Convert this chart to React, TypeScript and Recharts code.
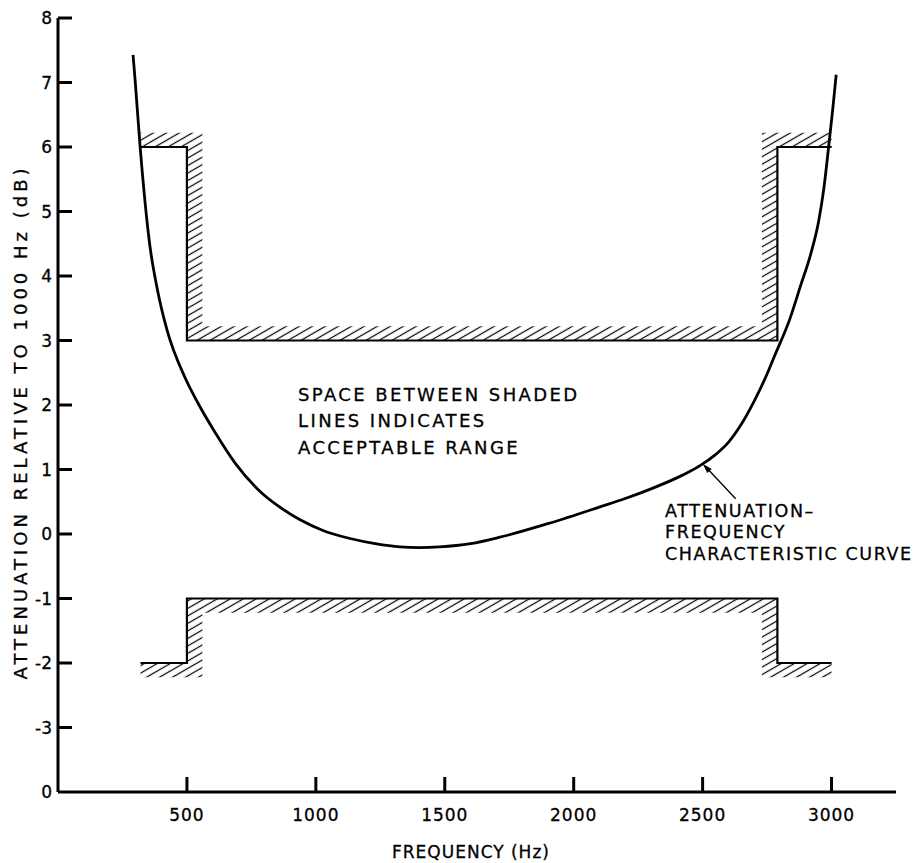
import React from "react";
import {
  ComposedChart,
  Line,
  Area,
  XAxis,
  YAxis,
  ReferenceDot,
} from "recharts";

// ---- data ----
const xTicks = [500, 1000, 1500, 2000, 2500, 3000];
const yTicks = [-4, -3, -2, -1, 0, 1, 2, 3, 4, 5, 6, 7, 8];

const maskFreq = [320, 500, 560, 2730, 2790, 3000];
const upperLimit = [6, 3, 3, 3, 6, 6];
const lowerLimit = [-2, -1, -1, -1, -2, -2];
const upperHatchTop = [6.22, 6.22, 3.22, 6.22, 6.22, 6.22];
const lowerHatchBottom = [-2.22, -2.22, -1.22, -2.22, -2.22, -2.22];

const curveFreq = [291, 299, 318, 357, 385, 423, 492, 540, 610, 687, 800, 870, 939, 1030, 1133, 1230, 1327, 1400, 1480, 1600, 1714, 1908, 2102, 2200, 2300, 2400, 2450, 2490, 2550, 2600, 2650, 2700, 2750, 2779, 2837, 2880, 2920, 2950, 2970, 2990, 3005, 3018];
const curveAtten = [7.43, 7.04, 6.03, 4.45, 3.8, 3.16, 2.43, 2.05, 1.57, 1.1, 0.6, 0.39, 0.22, 0.05, -0.07, -0.15, -0.2, -0.21, -0.2, -0.15, -0.05, 0.17, 0.42, 0.55, 0.7, 0.87, 0.97, 1.06, 1.23, 1.42, 1.7, 2.06, 2.48, 2.76, 3.32, 3.85, 4.35, 4.85, 5.35, 6.05, 6.6, 7.12];

const arrowTip = { f: 2500, a: 1.09 };

const maskData = maskFreq.map((f, i) => ({
  f,
  upper: upperLimit[i],
  lower: lowerLimit[i],
  upperHatch: [upperLimit[i], upperHatchTop[i]],
  lowerHatch: [lowerHatchBottom[i], lowerLimit[i]],
}));
const curveData = curveFreq.map((f, i) => ({ f, a: curveAtten[i] }));

const FONT = "'DejaVu Sans', sans-serif";

const YTick = (props: any) => {
  const { x, y, payload } = props;
  const v = payload.value;
  const label = v === -4 ? "0" : String(v);
  return (
    <g>
      {v !== -4 && (
        <line x1={x} x2={x + 14} y1={y} y2={y} stroke="#000" strokeWidth={3} />
      )}
      <text x={x - 6} y={y} dy="0.36em" textAnchor="end" fontFamily={FONT} fontSize={17} fill="#000" stroke="#000" strokeWidth={0.3}>
        {label}
      </text>
    </g>
  );
};

const XTick = (props: any) => {
  const { x, y, payload } = props;
  return (
    <g>
      <line x1={x} x2={x} y1={y} y2={y - 15} stroke="#000" strokeWidth={3} />
      <text x={x} y={y + 23} dy="0.36em" textAnchor="middle" fontFamily={FONT} fontSize={17} letterSpacing={1} fill="#000" stroke="#000" strokeWidth={0.3}>
        {payload.value}
      </text>
    </g>
  );
};

const ArrowHead = (props: any) => {
  const { cx, cy } = props;
  if (cx == null || cy == null) return null;
  return (
    <g>
      <line x1={cx + 3} y1={cy + 3} x2={cx + 33} y2={cy + 35} stroke="#000" strokeWidth={1.3} />
      <polygon
        points={`${cx},${cy} ${cx + 9.1},${cy + 5.2} ${cx + 4.7},${cy + 9.4}`}
        fill="#000"
      />
    </g>
  );
};

const textStyle = { fontFamily: FONT, fontSize: 18, fill: "#000", stroke: "#000", strokeWidth: 0.3, letterSpacing: 2.4 } as any;
const noteStyle = { ...textStyle, fontSize: 17.5, letterSpacing: 1.6 } as any;

export default function App() {
  return (
    <div>
      <style>{"body{margin:0}"}</style>
      <ComposedChart
        width={915}
        height={863}
        margin={{ top: 18, right: 19, bottom: 0, left: 0 }}
      >
        <defs>
          <pattern id="hatch" patternUnits="userSpaceOnUse" width="20" height="6.5" patternTransform="rotate(-30)">
            <line x1="0" y1="3.25" x2="20" y2="3.25" stroke="#000" strokeWidth="1.2" />
          </pattern>
        </defs>
        <XAxis
          type="number"
          dataKey="f"
          domain={[0, 3250]}
          ticks={xTicks}
          height={71}
          axisLine={{ stroke: "#000", strokeWidth: 3 }}
          tickLine={false}
          tickSize={0}
          tickMargin={0}
          tick={<XTick />}
          allowDataOverflow
        />
        <YAxis
          type="number"
          domain={[-4, 8]}
          ticks={yTicks}
          width={58}
          interval={0}
          axisLine={{ stroke: "#000", strokeWidth: 3 }}
          tickLine={false}
          tickSize={0}
          tickMargin={0}
          tick={<YTick />}
          allowDataOverflow
        />
        <Area
          data={maskData}
          dataKey="upperHatch"
          type="stepAfter"
          stroke="none"
          fill="url(#hatch)"
          fillOpacity={1}
          isAnimationActive={false}
        />
        <Area
          data={maskData}
          dataKey="lowerHatch"
          type="stepAfter"
          stroke="none"
          fill="url(#hatch)"
          fillOpacity={1}
          isAnimationActive={false}
        />
        <Line
          data={maskData}
          dataKey="upper"
          type="stepAfter"
          stroke="#000"
          strokeWidth={2.2}
          dot={false}
          isAnimationActive={false}
        />
        <Line
          data={maskData}
          dataKey="lower"
          type="stepAfter"
          stroke="#000"
          strokeWidth={2.2}
          dot={false}
          isAnimationActive={false}
        />
        <Line
          data={curveData}
          dataKey="a"
          type="monotone"
          stroke="#000"
          strokeWidth={2.8}
          dot={false}
          isAnimationActive={false}
        />
        <ReferenceDot x={arrowTip.f} y={arrowTip.a} r={3} shape={<ArrowHead />} />
        <text x={20} y={422} transform="rotate(-90 20 422)" textAnchor="middle" dominantBaseline="central" style={{ ...textStyle, letterSpacing: 4 }}>
          ATTENUATION RELATIVE TO 1000 Hz (dB)
        </text>
        <text x={471} y={852} textAnchor="middle" dominantBaseline="central" style={{ ...textStyle, fontSize: 17, letterSpacing: 1 }}>
          FREQUENCY (Hz)
        </text>
        <text x={298} y={394} dominantBaseline="central" style={textStyle}>SPACE BETWEEN SHADED</text>
        <text x={298} y={420} dominantBaseline="central" style={textStyle}>LINES INDICATES</text>
        <text x={298} y={447} dominantBaseline="central" style={textStyle}>ACCEPTABLE RANGE</text>
        <text x={665} y={511} dominantBaseline="central" style={noteStyle}>ATTENUATION–</text>
        <text x={665} y={532} dominantBaseline="central" style={noteStyle}>FREQUENCY</text>
        <text x={665} y={554} dominantBaseline="central" style={noteStyle}>CHARACTERISTIC CURVE</text>
      </ComposedChart>
    </div>
  );
}
